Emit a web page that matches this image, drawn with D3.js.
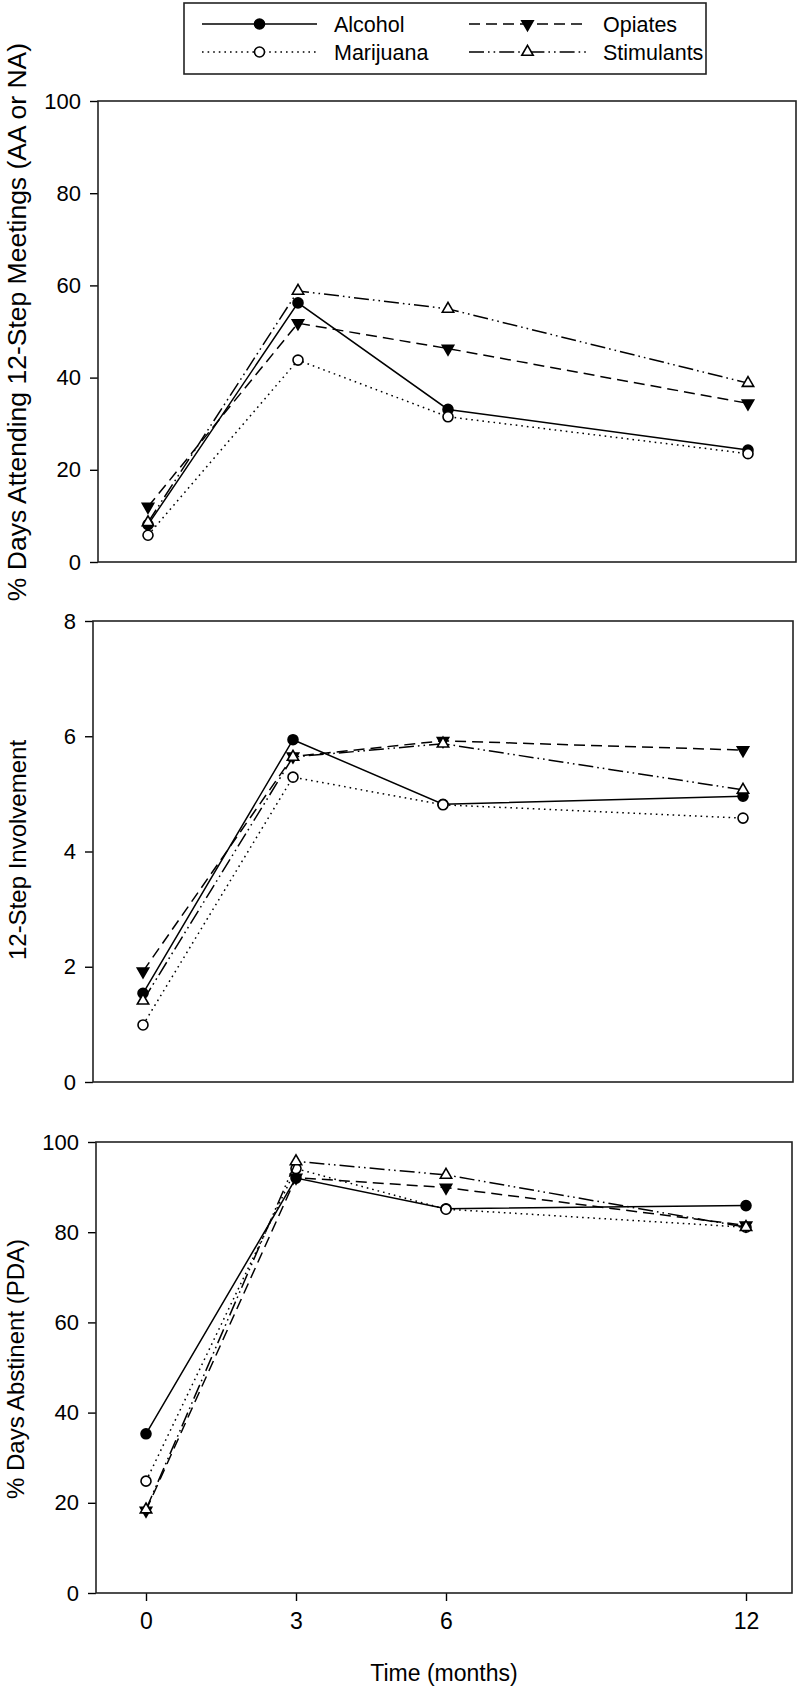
<!DOCTYPE html>
<html>
<head>
<meta charset="utf-8">
<script src="https://cdn.jsdelivr.net/npm/d3@7"></script>
<style>
  html, body { margin: 0; padding: 0; background: #fff; }
  svg { display: block; font-family: "Liberation Sans", Arial, Helvetica, sans-serif; }
</style>
</head>
<body>
<svg id="chart" width="800" height="1690"></svg>
<script>
// ---- data ----
const months = [0, 3, 6, 12];
const seriesNames = ["Alcohol", "Marijuana", "Opiates", "Stimulants"];

const meetingsAlcohol    = [8.1, 56.2, 33.1, 24.3];
const meetingsMarijuana  = [5.8, 43.8, 31.5, 23.5];
const meetingsOpiates    = [12.0, 51.8, 46.3, 34.4];
const meetingsStimulants = [8.6, 58.8, 54.9, 38.8];

const involvementAlcohol    = [1.54, 5.94, 4.82, 4.96];
const involvementMarijuana  = [0.99, 5.29, 4.81, 4.58];
const involvementOpiates    = [1.92, 5.65, 5.92, 5.76];
const involvementStimulants = [1.41, 5.64, 5.87, 5.07];

const pdaAlcohol    = [35.3, 92.0, 85.2, 85.9];
const pdaMarijuana  = [24.8, 94.1, 85.1, 81.1];
const pdaOpiates    = [18.3, 92.1, 89.9, 81.5];
const pdaStimulants = [18.5, 95.7, 92.7, 81.1];

const meetingsTicks = [0, 20, 40, 60, 80, 100];
const involvementTicks = [0, 2, 4, 6, 8];
const pdaTicks = [0, 20, 40, 60, 80, 100];
const xTickLabels = ["0", "3", "6", "12"];

const yLabels = ["% Days Attending 12-Step Meetings (AA or NA)", "12-Step Involvement", "% Days Abstinent (PDA)"];
const xLabel = "Time (months)";

// ---- styles ----
const styles = {
  Alcohol:    { dash: null,               symbol: "circle",  fill: "#000" },
  Marijuana:  { dash: "1.6,4",            symbol: "circle",  fill: "#fff" },
  Opiates:    { dash: "11,6",             symbol: "tridown", fill: "#000" },
  Stimulants: { dash: "15,4,1.6,4,1.6,4", symbol: "triup",   fill: "#fff" }
};

const panels = [
  { values: [meetingsAlcohol, meetingsMarijuana, meetingsOpiates, meetingsStimulants],
    ticks: meetingsTicks, ymax: 100, left: 98, right: 796, top: 101, bottom: 562,
    label: yLabels[0], labelSize: 26.5, labelX: 26, labelY: 322, showX: false },
  { values: [involvementAlcohol, involvementMarijuana, involvementOpiates, involvementStimulants],
    ticks: involvementTicks, ymax: 8, left: 93, right: 793, top: 621, bottom: 1082,
    label: yLabels[1], labelSize: 24, labelX: 26, labelY: 850, showX: false },
  { values: [pdaAlcohol, pdaMarijuana, pdaOpiates, pdaStimulants],
    ticks: pdaTicks, ymax: 100, left: 96, right: 792, top: 1142, bottom: 1593,
    label: yLabels[2], labelSize: 24, labelX: 24, labelY: 1369, showX: true }
];

const svg = d3.select("#chart");

function symbolPath(kind) {
  if (kind === "circle") return d3.symbol().type(d3.symbolCircle).size(Math.PI * 25)();
  return d3.symbol().type(d3.symbolTriangle).size(56)();
}

function drawMarker(g, kind, fill, x, y) {
  const p = g.append("path")
    .attr("d", symbolPath(kind))
    .attr("fill", fill)
    .attr("stroke", "#000")
    .attr("stroke-width", 1.6);
  let t = `translate(${x},${y})`;
  if (kind === "tridown") t += " rotate(180)";
  p.attr("transform", t);
}

panels.forEach(p => {
  const g = svg.append("g");
  const x = d3.scaleLinear().domain([-1, 13]).range([p.left, p.left + 700]);
  const y = d3.scaleLinear().domain([0, p.ymax]).range([p.bottom, p.top]);

  // y axis
  const yAxis = d3.axisLeft(y).tickValues(p.ticks).tickSize(8).tickPadding(9).tickFormat(d3.format("d"));
  const ya = g.append("g").attr("transform", `translate(${p.left},0)`).call(yAxis);
  ya.select(".domain").remove();
  ya.selectAll(".tick line").attr("stroke", "#000").attr("stroke-width", 1.4);
  ya.selectAll(".tick text").attr("font-size", 22).attr("fill", "#000")
    .attr("font-family", '"Liberation Sans", Arial, sans-serif');

  // x axis (ticks only in last panel)
  if (p.showX) {
    const xAxis = d3.axisBottom(x).tickValues(months).tickSize(8).tickPadding(12)
      .tickFormat((d, i) => xTickLabels[i]);
    const xa = g.append("g").attr("transform", `translate(0,${p.bottom})`).call(xAxis);
    xa.select(".domain").remove();
    xa.selectAll(".tick line").attr("stroke", "#000").attr("stroke-width", 1.4);
    xa.selectAll(".tick text").attr("font-size", 23).attr("fill", "#000")
      .attr("font-family", '"Liberation Sans", Arial, sans-serif');
    g.append("text")
      .attr("x", (p.left + p.right) / 2)
      .attr("y", 1681)
      .attr("text-anchor", "middle")
      .attr("font-size", 23)
      .attr("fill", "#000")
      .text(xLabel);
  }

  // frame
  g.append("rect")
    .attr("x", p.left).attr("y", p.top)
    .attr("width", p.right - p.left).attr("height", p.bottom - p.top)
    .attr("fill", "none").attr("stroke", "#222").attr("stroke-width", 1.6);

  // y label
  g.append("text")
    .attr("transform", `translate(${p.labelX},${p.labelY}) rotate(-90)`)
    .attr("text-anchor", "middle")
    .attr("font-size", p.labelSize)
    .attr("fill", "#000")
    .text(p.label);

  // series
  const line = d3.line().x((d, i) => x(months[i])).y(d => y(d));
  seriesNames.forEach((name, si) => {
    const st = styles[name];
    const vals = p.values[si];
    g.append("path")
      .datum(vals)
      .attr("d", line)
      .attr("fill", "none")
      .attr("stroke", "#000")
      .attr("stroke-width", 1.5)
      .attr("stroke-dasharray", st.dash);
    vals.forEach((v, i) => drawMarker(g, st.symbol, st.fill, x(months[i]), y(v)));
  });
});

// ---- legend ----
const lg = svg.append("g");
lg.append("rect").attr("x", 184).attr("y", 3).attr("width", 522).attr("height", 71)
  .attr("fill", "#fff").attr("stroke", "#222").attr("stroke-width", 1.6);
const legendPos = [
  { name: "Alcohol", x1: 202, x2: 317, ly: 24 },
  { name: "Marijuana", x1: 202, x2: 317, ly: 52 },
  { name: "Opiates", x1: 469, x2: 586, ly: 24 },
  { name: "Stimulants", x1: 469, x2: 586, ly: 52 }
];
legendPos.forEach(lp => {
  const st = styles[lp.name];
  lg.append("line").attr("x1", lp.x1).attr("x2", lp.x2).attr("y1", lp.ly).attr("y2", lp.ly)
    .attr("stroke", "#000").attr("stroke-width", 1.5).attr("stroke-dasharray", st.dash);
  drawMarker(lg, st.symbol, st.fill, (lp.x1 + lp.x2) / 2, lp.ly);
  lg.append("text").attr("x", lp.x2 + 17).attr("y", lp.ly).attr("dy", "0.36em")
    .attr("font-size", 21.5).attr("fill", "#000").text(lp.name);
});
</script>
</body>
</html>
